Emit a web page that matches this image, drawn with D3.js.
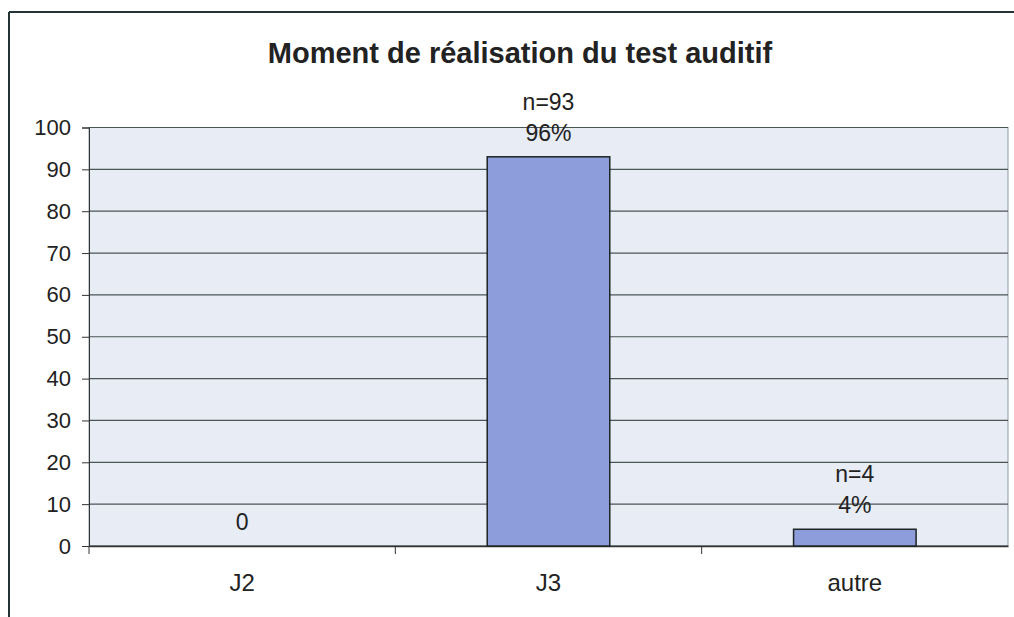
<!DOCTYPE html>
<html>
<head>
<meta charset="utf-8">
<script src="https://cdn.jsdelivr.net/npm/d3@7"></script>
<style>
  body { margin: 0; background: #fff; }
  svg text { font-family: "Liberation Sans", Arial, sans-serif; fill: #222; }
</style>
</head>
<body>
<div id="chart"></div>
<script>
// data
var categories = ["J2", "J3", "autre"];
var values = [0, 93, 4];
var countLabels = ["", "n=93", "n=4"];
var pctLabels = ["0", "96%", "4%"];
var yTicks = [0, 10, 20, 30, 40, 50, 60, 70, 80, 90, 100];

var width = 1014, height = 617;
var plot = { left: 89, right: 1008, top: 127.5, bottom: 546 };

var svg = d3.select('#chart').append('svg')
  .attr('width', width).attr('height', height);

// outer frame (top + left visible)
svg.append('line').attr('x1', 9).attr('x2', width).attr('y1', 12).attr('y2', 12)
  .attr('stroke', '#243434').attr('stroke-width', 2);
svg.append('line').attr('x1', 9).attr('x2', 9).attr('y1', 12).attr('y2', height)
  .attr('stroke', '#243434').attr('stroke-width', 2);

svg.append('text')
  .attr('x', 520).attr('y', 63)
  .attr('text-anchor', 'middle')
  .attr('font-size', 29).attr('font-weight', 'bold')
  .attr('fill', '#2a3a3a')
  .text('Moment de réalisation du test auditif');

var x = d3.scaleBand().domain(categories).range([plot.left, plot.right]).paddingInner(0.6).paddingOuter(0.3);
var xb = d3.scaleBand().domain(categories).range([plot.left, plot.right]);
var y = d3.scaleLinear().domain([0, 100]).range([plot.bottom, plot.top]);

// plot background
svg.append('rect')
  .attr('x', plot.left).attr('y', plot.top)
  .attr('width', plot.right - plot.left).attr('height', plot.bottom - plot.top)
  .attr('fill', '#e7ecf5')
  .attr('stroke', '#8a9aa6').attr('stroke-width', 1);

// grid
svg.append('g').selectAll('line').data(yTicks).enter().append('line')
  .attr('x1', plot.left).attr('x2', plot.right)
  .attr('y1', function(d){ return y(d); }).attr('y2', function(d){ return y(d); })
  .attr('stroke', '#4a5656').attr('stroke-width', 1.2);

// y axis
var yAxis = d3.axisLeft(y).tickValues(yTicks).tickSize(7).tickPadding(11);
var gy = svg.append('g').attr('transform', 'translate(' + plot.left + ',0)').call(yAxis);
gy.selectAll('text').attr('font-size', 22).attr('fill', '#222').style('font-family', '"Liberation Sans", Arial, sans-serif');
gy.selectAll('line, path').attr('stroke', '#333');

// x axis: ticks between categories
var xAxis = d3.axisBottom(xb).tickSize(0).tickPadding(28);
var gx = svg.append('g').attr('transform', 'translate(0,' + plot.bottom + ')').call(xAxis);
gx.select('.domain').attr('stroke', '#333').attr('stroke-width', 1.5);
gx.selectAll('text').attr('font-size', 24).attr('fill', '#222').style('font-family', '"Liberation Sans", Arial, sans-serif');
gx.selectAll('.sep').data(categories.slice(1)).enter().append('line')
  .attr('class', 'sep')
  .attr('x1', function(d){ return xb(d); }).attr('x2', function(d){ return xb(d); })
  .attr('y1', 0).attr('y2', 8)
  .attr('stroke', '#333');
gx.append('line').attr('x1', plot.left).attr('x2', plot.left).attr('y1', 0).attr('y2', 8).attr('stroke', '#333');

// bars
svg.append('g').selectAll('rect').data(values).enter().append('rect')
  .attr('x', function(d, i){ return x(categories[i]); })
  .attr('y', function(d){ return y(d); })
  .attr('width', x.bandwidth())
  .attr('height', function(d){ return y(0) - y(d); })
  .attr('fill', function(d){ return d > 0 ? '#8d9cdb' : 'none'; })
  .attr('stroke', function(d){ return d > 0 ? '#1c2424' : 'none'; })
  .attr('stroke-width', 1.5);

// labels
var lab = svg.append('g');
values.forEach(function(v, i) {
  var cx = xb(categories[i]) + xb.bandwidth() / 2;
  lab.append('text').attr('x', cx).attr('y', y(v) - 16)
    .attr('text-anchor', 'middle').attr('font-size', 23).text(pctLabels[i]);
  if (countLabels[i]) {
    lab.append('text').attr('x', cx).attr('y', y(v) - 47)
      .attr('text-anchor', 'middle').attr('font-size', 23).text(countLabels[i]);
  }
});
</script>
</body>
</html>
